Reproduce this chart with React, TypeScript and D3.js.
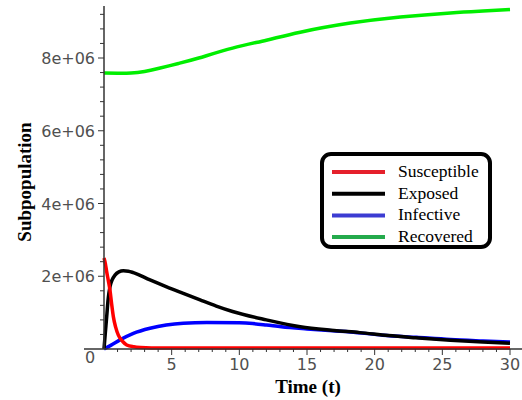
import React from "react";
import * as d3 from "d3";

const W = 522;
const H = 400;

// Data (values in units of 1e6)
const tS = [0, 0.1, 0.2, 0.32, 0.44, 0.56, 0.69, 0.86, 1.06, 1.4, 1.68, 2.2, 2.7, 3.5, 5, 10, 20, 30];
const vS = [2.5, 2.35, 2.12, 1.88, 1.62, 1.25, 0.89, 0.6, 0.38, 0.2, 0.11, 0.06, 0.04, 0.03, 0.03, 0.03, 0.03, 0.03];

const tE = [0, 0.1, 0.2, 0.3, 0.44, 0.6, 0.81, 1.1, 1.43, 1.8, 2.17, 3.4, 4.63, 5.86, 7.1, 8.3, 9.5, 12, 14.5, 17, 18.9, 21, 23, 25.6, 28, 30];
const vE = [0, 0.45, 0.89, 1.35, 1.71, 1.9, 2.03, 2.12, 2.15, 2.14, 2.1, 1.9, 1.71, 1.53, 1.35, 1.18, 1.03, 0.8, 0.61, 0.51, 0.45, 0.37, 0.31, 0.24, 0.19, 0.16];

const tI = [0, 0.5, 1.18, 2.17, 3.4, 4.6, 5.86, 7.6, 10, 11, 12, 13.1, 15, 16.9, 18.2, 20.6, 23.1, 25.6, 28, 30];
const vI = [0, 0.1, 0.25, 0.43, 0.57, 0.66, 0.71, 0.73, 0.72, 0.7, 0.66, 0.61, 0.55, 0.5, 0.47, 0.38, 0.32, 0.26, 0.22, 0.19];

const tR = [0, 1, 2, 3, 4, 5.5, 7, 9.5, 12, 14.5, 18.2, 21.9, 25.6, 28, 30];
const vR = [7.585, 7.578, 7.585, 7.63, 7.71, 7.85, 8.0, 8.27, 8.49, 8.71, 8.96, 9.13, 9.24, 9.29, 9.33];

const xTickVals = [5, 10, 15, 20, 25, 30];
const yTickVals = [2, 4, 6, 8];
const yTickLabels = ["2e+06", "4e+06", "6e+06", "8e+06"];

const legendNames = ["Susceptible", "Exposed", "Infective", "Recovered"];
const lineColors = ["#ff0000", "#000000", "#0000ff", "#00ee00"];
const legendColors = ["#e5202b", "#000000", "#3c3cd2", "#24aa4c"];

export default function App() {
  const x = d3.scaleLinear().domain([0, 30]).range([104, 510]);
  const y = d3.scaleLinear().domain([0, 8]).range([349, 58]);

  const mk = (curve: d3.CurveFactory) =>
    d3
      .line<[number, number]>()
      .x((d) => x(d[0]))
      .y((d) => y(d[1]))
      .curve(curve);

  const series = [
    { t: tS, v: vS, c: d3.curveMonotoneX },
    { t: tE, v: vE, c: d3.curveMonotoneX },
    { t: tI, v: vI, c: d3.curveMonotoneX },
    { t: tR, v: vR, c: d3.curveNatural },
  ];
  const paths = series.map(
    (s) => mk(s.c)(s.t.map((t, i) => [t, s.v[i]] as [number, number])) as string
  );
  const drawOrder = [2, 1, 0, 3];

  const xMinor = d3.range(1, 31);
  const yMinor = d3.range(0.4, 9.41, 0.4);
  const yTop = y(9.43);

  return (
    <svg width={W} height={H} style={{ position: "absolute", left: 0, top: 0, background: "#fff" }}>
      <rect x={0} y={0} width={W} height={H} fill="#fff" />
      {/* curves */}
      {drawOrder.map((i) => (
        <path key={i} d={paths[i]} fill="none" stroke={lineColors[i]} strokeWidth={3.5} strokeLinejoin="round" />
      ))}
      {/* axes */}
      <line x1={84} x2={522} y1={349} y2={349} stroke="#333" strokeWidth={1.5} />
      <line x1={104} x2={104} y1={yTop} y2={349} stroke="#333" strokeWidth={1.5} />
      {xMinor.map((t) => (
        <line key={"xm" + t} x1={x(t)} x2={x(t)} y1={349} y2={t % 5 === 0 ? 355 : 352} stroke="#333" strokeWidth={1} />
      ))}
      {yMinor.map((v, i) => (
        <line key={"ym" + i} x1={i % 5 === 4 ? 98 : 100} x2={104} y1={y(v)} y2={y(v)} stroke="#333" strokeWidth={1} />
      ))}
      {xTickVals.map((t) => (
        <text key={"xl" + t} x={x(t)} y={370} textAnchor="middle" fontFamily="DejaVu Sans" fontSize={16} fill="#505050">
          {t}
        </text>
      ))}
      <text x={90} y={363} textAnchor="middle" fontFamily="DejaVu Sans" fontSize={16} fill="#505050">
        0
      </text>
      {yTickVals.map((v, i) => (
        <text key={"yl" + v} x={95} y={y(v) + 6} textAnchor="end" fontFamily="DejaVu Sans" fontSize={16} fill="#505050">
          {yTickLabels[i]}
        </text>
      ))}
      <text x={308} y={393} textAnchor="middle" fontFamily="Liberation Serif" fontWeight="bold" fontSize={19} fill="#000">
        Time (t)
      </text>
      <text
        transform={`translate(31,182) rotate(-90)`}
        textAnchor="middle"
        fontFamily="Liberation Serif"
        fontWeight="bold"
        fontSize={19}
        fill="#000"
      >
        Subpopulation
      </text>
      {/* legend */}
      <rect x={322} y={154} width={168} height={93} rx={9} ry={9} fill="#fff" stroke="#000" strokeWidth={4} />
      {legendNames.map((n, i) => (
        <g key={n}>
          <line x1={332} x2={385} y1={172 + i * 21.7} y2={172 + i * 21.7} stroke={legendColors[i]} strokeWidth={4} />
          <text x={398} y={177 + i * 21.7} fontFamily="Liberation Serif" fontSize={17.5} fill="#000">
            {n}
          </text>
        </g>
      ))}
    </svg>
  );
}
